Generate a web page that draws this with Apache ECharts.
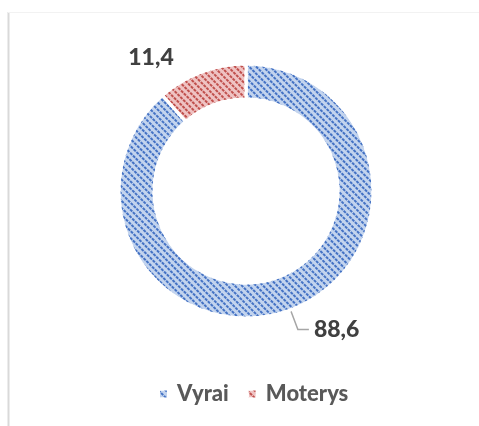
<!DOCTYPE html>
<html>
<head>
<meta charset="utf-8">
<script src="https://cdn.jsdelivr.net/npm/echarts@6/dist/echarts.min.js"></script>
<style>html,body{margin:0;padding:0;background:#fff}#c{width:479px;height:426px}</style>
</head>
<body>
<div id="c"></div>
<script>
const categories = ['Vyrai', 'Moterys'];
const values = [88.6, 11.4];
const labels = ['88,6', '11,4'];

const fills = ['#c3d4ee', '#efc3c3'];
const stripes = ['#4472c4', '#c0504d'];

const chart = echarts.init(document.getElementById('c'), null, {renderer: 'canvas'});

const decal = (c) => ({
  symbol: 'rect',
  symbolSize: 1,
  color: c,
  dashArrayX: [[2.5, 1]],
  dashArrayY: [1.7, 2.3],
  rotation: Math.PI / 4
});

chart.setOption({
  animation: false,
  backgroundColor: '#fff',
  graphic: [
    {type: 'line', shape: {x1: 8.5, y1: 12, x2: 8.5, y2: 426}, style: {stroke: '#d9d9d9', lineWidth: 2}},
    {type: 'line', shape: {x1: 8, y1: 12.5, x2: 479, y2: 12.5}, style: {stroke: '#f2f2f2', lineWidth: 1}}
  ],
  legend: {
    bottom: 16,
    left: 153,
    icon: 'rect',
    itemWidth: 9,
    itemHeight: 9,
    itemGap: 18,
    textStyle: {fontFamily: 'Lato', fontWeight: 900, fontSize: 22, color: '#595959', padding: [0, 0, 0, 4]},
    data: categories
  },
  series: [{
    type: 'pie',
    center: [246, 191],
    radius: [92, 127],
    startAngle: 90,
    clockwise: true,
    avoidLabelOverlap: false,
    itemStyle: {borderColor: '#fff', borderWidth: 3},
    label: {
      show: true,
      position: 'outside',
      fontFamily: 'Lato',
      fontWeight: 900,
      fontSize: 23,
      color: '#404040',
      formatter: (p) => labels[p.dataIndex]
    },
    labelLine: {show: true, length: 21, length2: 11, lineStyle: {color: '#a6a6a6', width: 1.5}},
    labelLayout: (p) => p.dataIndex === 1 ? {x: 151, y: 58, align: 'center', verticalAlign: 'middle'} : {},
    data: categories.map((n, i) => ({
      name: n,
      value: values[i],
      itemStyle: {color: fills[i], decal: decal(stripes[i])},
      labelLine: {show: i === 0}
    }))
  }]
});
</script>
</body>
</html>
